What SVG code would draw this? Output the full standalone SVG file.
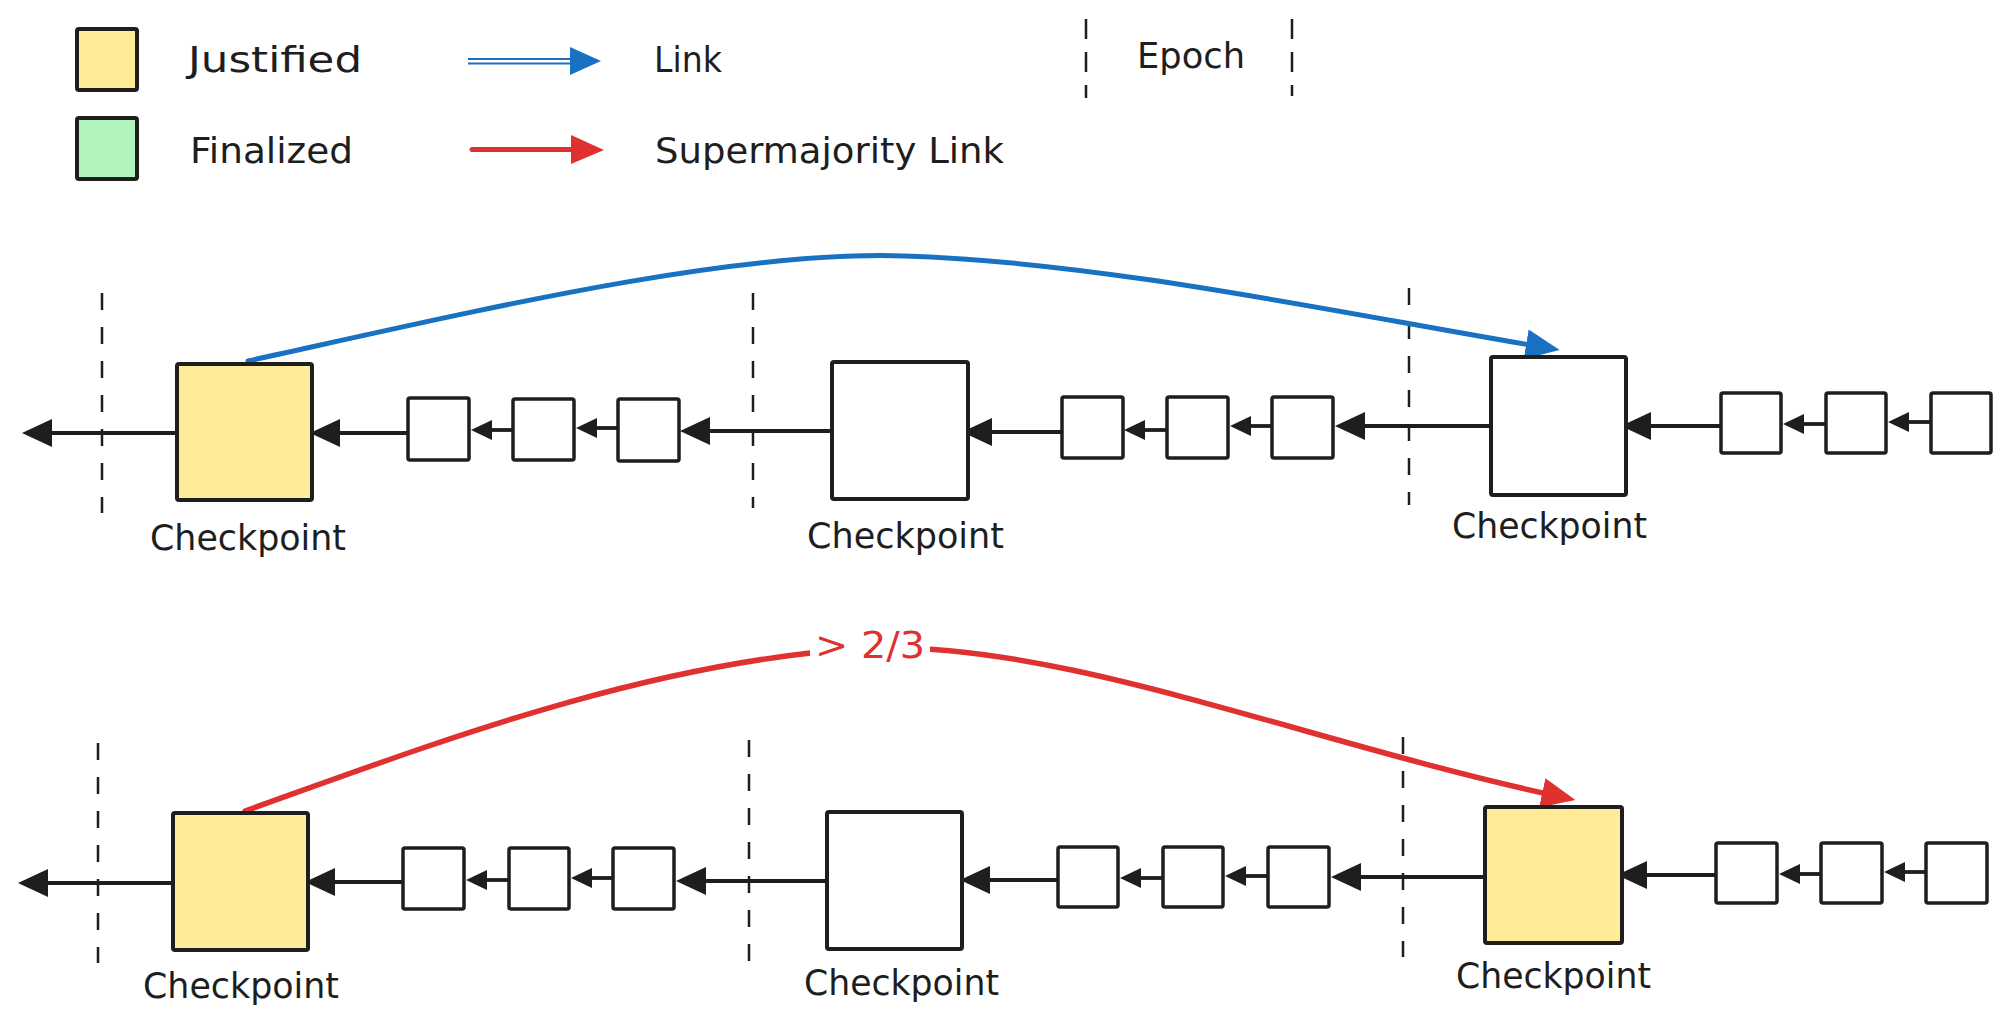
<svg xmlns="http://www.w3.org/2000/svg" width="2010" height="1033" viewBox="0 0 2010 1033">
<style>
  .t { font-family: "DejaVu Sans", "Liberation Sans", sans-serif; fill: #1e1e1e; }
  .leg { font-size: 36px; }
  .cp { font-size: 36px; }
  .box { stroke: #1e1e1e; stroke-width: 4; stroke-linejoin: round; }
  .sbox { fill: #ffffff; stroke: #1e1e1e; stroke-width: 3.5; stroke-linejoin: round; }
  .white { fill: #ffffff; }
  .yellow { fill: #ffec99; }
  .green { fill: #b2f2bb; }
  .dash { stroke: #1e1e1e; stroke-width: 2.5; stroke-dasharray: 17 17; fill: none; }
  .chain { stroke: #1e1e1e; stroke-width: 3.8; fill: none; }
  .big { marker-end: url(#hb); }
  .small { marker-end: url(#hs); }
</style>
<defs>
  <marker id="hb" viewBox="0 -15 32 30" markerWidth="32" markerHeight="30" refX="8" refY="0" markerUnits="userSpaceOnUse" orient="auto">
    <path d="M0,-14 L30,0 L0,14 Z" fill="#1e1e1e"/>
  </marker>
  <marker id="hs" viewBox="0 -11 23 22" markerWidth="23" markerHeight="22" refX="6" refY="0" markerUnits="userSpaceOnUse" orient="auto">
    <path d="M0,-10 L21,0 L0,10 Z" fill="#1e1e1e"/>
  </marker>
  <marker id="hblue" viewBox="0 -16 36 32" markerWidth="36" markerHeight="32" refX="10" refY="0" markerUnits="userSpaceOnUse" orient="auto">
    <path d="M0,-15 L34,0 L0,15 Z" fill="#1971c2"/>
  </marker>
  <marker id="hred" viewBox="0 -16 36 32" markerWidth="36" markerHeight="32" refX="10" refY="0" markerUnits="userSpaceOnUse" orient="auto">
    <path d="M0,-15 L34,0 L0,15 Z" fill="#e03131"/>
  </marker>
</defs>
<rect width="2010" height="1033" fill="#ffffff"/>

<!-- Legend -->
<g id="legend-justified">
  <rect class="box yellow" x="77" y="29" width="60" height="61" rx="2"/>
  <text class="t leg" x="188" y="72" textLength="174" lengthAdjust="spacingAndGlyphs">Justified</text>
</g>
<g id="legend-finalized">
  <rect class="box green" x="77" y="118" width="60" height="61" rx="2"/>
  <text class="t leg" x="190" y="163" textLength="163" lengthAdjust="spacingAndGlyphs">Finalized</text>
</g>
<g id="legend-link">
  <line x1="468" y1="59" x2="575" y2="59" stroke="#1971c2" stroke-width="1.8"/>
  <line x1="468" y1="63.5" x2="575" y2="63.5" stroke="#1971c2" stroke-width="1.8"/>
  <polygon points="570,47 601,61 570,75" fill="#1971c2"/>
  <text class="t leg" x="654" y="72" textLength="68" lengthAdjust="spacingAndGlyphs">Link</text>
</g>
<g id="legend-supermajority">
  <line x1="472" y1="149.5" x2="580" y2="149.5" stroke="#e03131" stroke-width="5" stroke-linecap="round"/>
  <polygon points="571,135 604,150 571,164" fill="#e03131"/>
  <text class="t leg" x="655" y="163" textLength="349" lengthAdjust="spacingAndGlyphs">Supermajority Link</text>
</g>
<g id="legend-epoch">
  <line x1="1086" y1="19" x2="1086" y2="98" stroke="#1e1e1e" stroke-width="2.5" stroke-dasharray="20 13"/>
  <line x1="1292" y1="19" x2="1292" y2="96" stroke="#1e1e1e" stroke-width="2.5" stroke-dasharray="20 13"/>
  <text class="t leg" x="1137" y="68" textLength="108" lengthAdjust="spacingAndGlyphs">Epoch</text>
</g>

<!-- Epoch boundaries -->
<g id="epoch-lines">
  <line class="dash" x1="102" y1="293" x2="102" y2="513"/>
  <line class="dash" x1="753" y1="293" x2="753" y2="508"/>
  <line class="dash" x1="1409" y1="288" x2="1409" y2="505"/>
  <line class="dash" x1="98" y1="743" x2="98" y2="963"/>
  <line class="dash" x1="749" y1="740" x2="749" y2="962"/>
  <line class="dash" x1="1403" y1="737" x2="1403" y2="957"/>
</g>

<!-- Connectors -->
<g id="connectors">
  <!-- top chain -->
  <line class="chain big" x1="177" y1="433" x2="44" y2="433"/>
  <line class="chain big" x1="408" y1="433" x2="332" y2="433"/>
  <line class="chain small" x1="513" y1="430" x2="486" y2="430"/>
  <line class="chain small" x1="618" y1="428" x2="591" y2="428"/>
  <line class="chain big" x1="832" y1="431" x2="702" y2="431"/>
  <line class="chain big" x1="1062" y1="432" x2="984" y2="432"/>
  <line class="chain small" x1="1167" y1="430" x2="1139" y2="430"/>
  <line class="chain small" x1="1272" y1="426" x2="1245" y2="426"/>
  <line class="chain big" x1="1491" y1="426" x2="1357" y2="426"/>
  <line class="chain big" x1="1721" y1="426" x2="1643" y2="426"/>
  <line class="chain small" x1="1826" y1="424" x2="1798" y2="424"/>
  <line class="chain small" x1="1931" y1="422" x2="1903" y2="422"/>
  <!-- bottom chain -->
  <line class="chain big" x1="173" y1="883" x2="40" y2="883"/>
  <line class="chain big" x1="403" y1="882" x2="327" y2="882"/>
  <line class="chain small" x1="509" y1="880" x2="481" y2="880"/>
  <line class="chain small" x1="613" y1="878" x2="586" y2="878"/>
  <line class="chain big" x1="827" y1="881" x2="698" y2="881"/>
  <line class="chain big" x1="1058" y1="880" x2="982" y2="880"/>
  <line class="chain small" x1="1163" y1="878" x2="1135" y2="878"/>
  <line class="chain small" x1="1268" y1="876" x2="1240" y2="876"/>
  <line class="chain big" x1="1485" y1="877" x2="1353" y2="877"/>
  <line class="chain big" x1="1716" y1="875" x2="1639" y2="875"/>
  <line class="chain small" x1="1821" y1="874" x2="1794" y2="874"/>
  <line class="chain small" x1="1926" y1="872" x2="1899" y2="872"/>
  <!-- link (blue) -->
  <path d="M248,361 C480,310 730,250 905,256 C1100,262 1330,311 1536,346" fill="none" stroke="#1971c2" stroke-width="5" stroke-linecap="round" marker-end="url(#hblue)"/>
  <!-- supermajority link (red) -->
  <path d="M245,811 C430,745 650,660 870,648 C1060,641 1300,740 1552,795" fill="none" stroke="#e03131" stroke-width="5.5" stroke-linecap="round" marker-end="url(#hred)"/>
  <g id="supermajority-label">
    <rect class="white" x="810" y="624" width="120" height="44"/>
    <text class="t" x="815" y="658" font-size="38" textLength="110" lengthAdjust="spacingAndGlyphs" style="fill:#e03131">&gt; 2/3</text>
  </g>
</g>

<!-- Top row nodes -->
<g id="top-checkpoint-1">
  <rect class="box yellow" x="177" y="364" width="135" height="136" rx="2"/>
  <text class="t cp" x="150" y="550" textLength="196" lengthAdjust="spacingAndGlyphs">Checkpoint</text>
</g>
<g id="top-block-1"><rect class="sbox" x="408" y="398" width="61" height="62" rx="2"/></g>
<g id="top-block-2"><rect class="sbox" x="513" y="399" width="61" height="61" rx="2"/></g>
<g id="top-block-3"><rect class="sbox" x="618" y="399" width="61" height="62" rx="2"/></g>
<g id="top-checkpoint-2">
  <rect class="box white" x="832" y="362" width="136" height="137" rx="2"/>
  <text class="t cp" x="807" y="548" textLength="197" lengthAdjust="spacingAndGlyphs">Checkpoint</text>
</g>
<g id="top-block-4"><rect class="sbox" x="1062" y="397" width="61" height="61" rx="2"/></g>
<g id="top-block-5"><rect class="sbox" x="1167" y="397" width="61" height="61" rx="2"/></g>
<g id="top-block-6"><rect class="sbox" x="1272" y="397" width="61" height="61" rx="2"/></g>
<g id="top-checkpoint-3">
  <rect class="box white" x="1491" y="357" width="135" height="138" rx="2"/>
  <text class="t cp" x="1452" y="538" textLength="195" lengthAdjust="spacingAndGlyphs">Checkpoint</text>
</g>
<g id="top-block-7"><rect class="sbox" x="1721" y="393" width="60" height="60" rx="2"/></g>
<g id="top-block-8"><rect class="sbox" x="1826" y="393" width="60" height="60" rx="2"/></g>
<g id="top-block-9"><rect class="sbox" x="1931" y="393" width="60" height="60" rx="2"/></g>

<!-- Bottom row nodes -->
<g id="bottom-checkpoint-1">
  <rect class="box yellow" x="173" y="813" width="135" height="137" rx="2"/>
  <text class="t cp" x="143" y="998" textLength="196" lengthAdjust="spacingAndGlyphs">Checkpoint</text>
</g>
<g id="bottom-block-1"><rect class="sbox" x="403" y="848" width="61" height="61" rx="2"/></g>
<g id="bottom-block-2"><rect class="sbox" x="509" y="848" width="60" height="61" rx="2"/></g>
<g id="bottom-block-3"><rect class="sbox" x="613" y="848" width="61" height="61" rx="2"/></g>
<g id="bottom-checkpoint-2">
  <rect class="box white" x="827" y="812" width="135" height="137" rx="2"/>
  <text class="t cp" x="804" y="995" textLength="195" lengthAdjust="spacingAndGlyphs">Checkpoint</text>
</g>
<g id="bottom-block-4"><rect class="sbox" x="1058" y="847" width="60" height="60" rx="2"/></g>
<g id="bottom-block-5"><rect class="sbox" x="1163" y="847" width="60" height="60" rx="2"/></g>
<g id="bottom-block-6"><rect class="sbox" x="1268" y="847" width="61" height="60" rx="2"/></g>
<g id="bottom-checkpoint-3">
  <rect class="box yellow" x="1485" y="807" width="137" height="136" rx="2"/>
  <text class="t cp" x="1456" y="988" textLength="195" lengthAdjust="spacingAndGlyphs">Checkpoint</text>
</g>
<g id="bottom-block-7"><rect class="sbox" x="1716" y="843" width="61" height="60" rx="2"/></g>
<g id="bottom-block-8"><rect class="sbox" x="1821" y="843" width="61" height="60" rx="2"/></g>
<g id="bottom-block-9"><rect class="sbox" x="1926" y="843" width="61" height="60" rx="2"/></g>
</svg>
